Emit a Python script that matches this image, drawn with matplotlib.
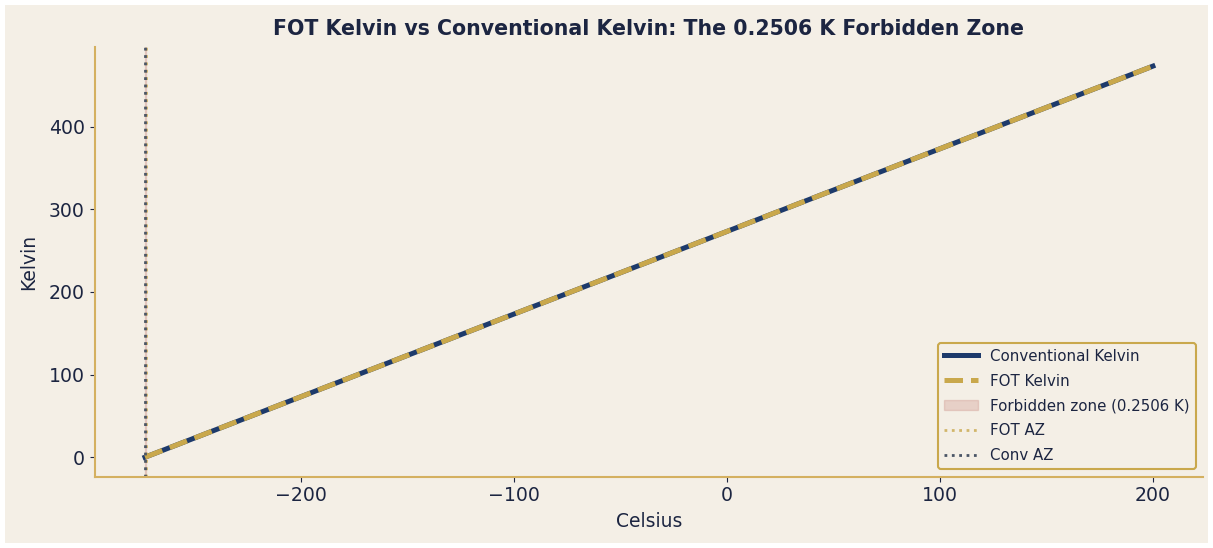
import numpy as np
import matplotlib
matplotlib.use("Agg")
import matplotlib.pyplot as plt

# data
abs_zero_c = -273.15
forbidden_gap = 0.2506
celsius = np.array([-273.15, 200.0])
kelvin_conv = celsius + 273.15
kelvin_fot = celsius + 273.15

BG = "#f4efe6"
NAVY = "#1d3a6b"
GOLD = "#c9a84c"
TEXT = "#1c2541"
SLATE = "#4a5566"

plt.rcParams['font.family'] = ['DejaVu Sans']

fig, ax = plt.subplots(figsize=(12.13, 5.48), dpi=100)
fig.patch.set_facecolor(BG)
fig.patch.set_edgecolor("white")
fig.patch.set_linewidth(7)
ax.set_facecolor(BG)

ax.plot(celsius, kelvin_conv, color=NAVY, lw=3.6, label="Conventional Kelvin")
ax.plot(celsius, kelvin_fot, color=GOLD, lw=3.6, ls="--", label="FOT Kelvin")
ax.axvspan(abs_zero_c, abs_zero_c + forbidden_gap, color="#c98a80", alpha=0.3,
           label=f"Forbidden zone ({forbidden_gap} K)")
ax.axvline(abs_zero_c + forbidden_gap, color=GOLD, ls=":", lw=2, alpha=0.8, label="FOT AZ")
ax.axvline(abs_zero_c, color=SLATE, ls=":", lw=2, label="Conv AZ")

ax.set_title("FOT Kelvin vs Conventional Kelvin: The 0.2506 K Forbidden Zone",
             fontsize=14.8, fontweight="bold", color=TEXT, pad=8)
ax.set_xlabel("Celsius", fontsize=13.5, color=TEXT, labelpad=5)
ax.set_ylabel("Kelvin", fontsize=13.5, color=TEXT, labelpad=8)
ax.tick_params(colors=TEXT, labelsize=13.6)
for s in ["top", "right"]:
    ax.spines[s].set_visible(False)
for s in ["left", "bottom"]:
    ax.spines[s].set_color("#d4b060")
    ax.spines[s].set_linewidth(1.5)

leg = ax.legend(loc="lower right", fontsize=10.8, facecolor=BG, edgecolor=GOLD,
                framealpha=1, labelspacing=0.66, handlelength=2.3)
for t in leg.get_texts():
    t.set_color(TEXT)
leg.get_frame().set_linewidth(1.5)

fig.subplots_adjust(left=0.078, right=0.992, top=0.915, bottom=0.13)
fig.savefig("out.png", dpi=100, facecolor=fig.get_facecolor(), edgecolor="white")
